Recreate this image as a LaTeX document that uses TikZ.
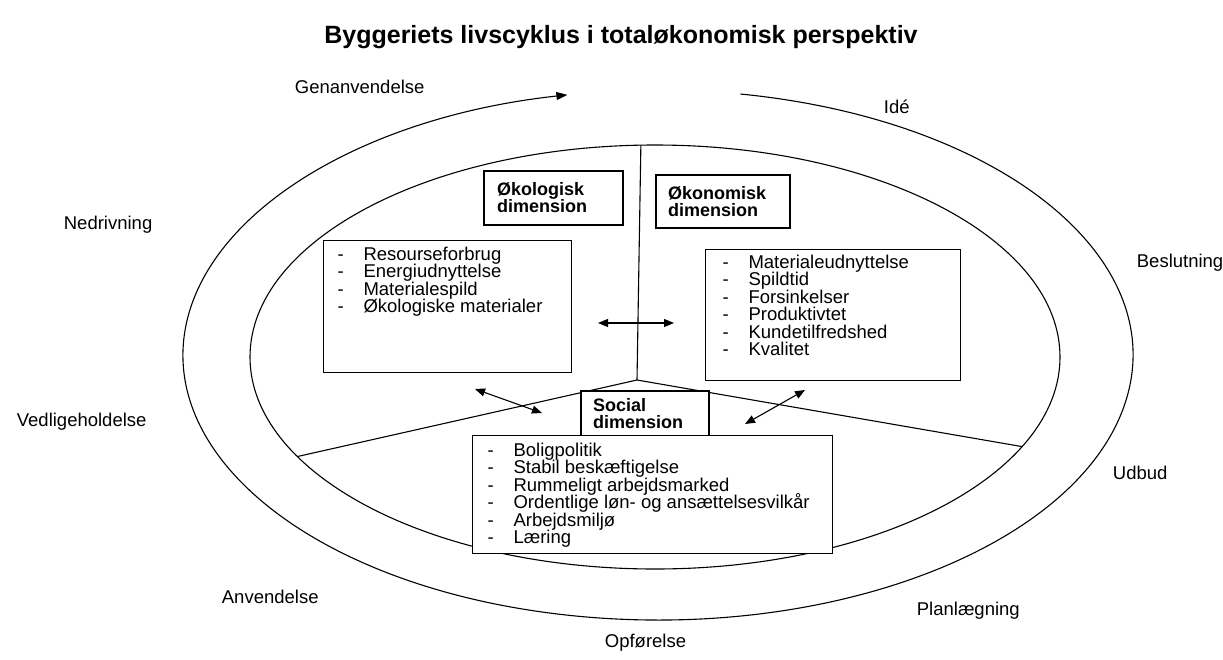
\documentclass[tikz,border=0pt]{standalone}
\usepackage{fontspec}
\setmainfont{Liberation Sans}
\usetikzlibrary{arrows.meta}

\newcommand{\punkt}{\makebox[26pt][l]{-}}
\newcommand{\listfont}{\fontsize{18.5}{17.5}\selectfont\lineskiplimit=-20pt}

\begin{document}
\begin{tikzpicture}[x=1pt,y=-1pt,line width=1.1pt,
  stage/.style={anchor=base west,font=\fontsize{18.5}{20}\selectfont},
  dimbox/.style={draw,fill=white,inner sep=0pt,align=left,font=\bfseries\fontsize{18}{17}\selectfont},
  listbox/.style={draw,fill=white,anchor=north west,inner ysep=0pt},
  link/.style={{Triangle[length=10pt,width=8pt]}-{Triangle[length=10pt,width=8pt]}}]
\useasboundingbox (0,0) rectangle (1223,659);

% Title
\node[anchor=base,font=\bfseries\fontsize{25}{30}\selectfont] (head) at (621,43)
  {Byggeriets livscyklus i totaløkonomisk perspektiv};

% Life cycle ring
\coordinate (ring) at (658,355);
\draw[-{Triangle[length=11pt,width=8pt]}] ([shift={(-80:475 and 265)}]ring)
  arc[start angle=-80,end angle=259,x radius=475,y radius=265];

% Stages
\node[stage] (genanv) at (291,93) {Genanvendelse};
\node[stage] (ide) at (880,113) {Idé};
\node[stage] (nedriv) at (60,229) {Nedrivning};
\node[stage] (beslut) at (1133,267) {Beslutning};
\node[stage] (vedlig) at (13,426) {Vedligeholdelse};
\node[stage] (udbud) at (1109,479) {Udbud};
\node[stage] (anvend) at (218,603) {Anvendelse};
\node[stage] (planl) at (913,615) {Planlægning};
\node[stage] (opfor) at (601,647) {Opførelse};

% Inner ellipse and the three sectors
\coordinate (core) at (655,357);
\draw (core) ellipse [x radius=405,y radius=212];
\coordinate (hub) at (637,380);
\draw (hub) -- ([shift={(-92:405 and 212)}]core);
\draw (hub) -- ([shift={(152:405 and 212)}]core);
\draw (hub) -- ([shift={(25:405 and 212)}]core);

% Dimensions
\node[dimbox,minimum width=139pt,minimum height=54pt,text width=113pt] (oekolog) at (553.5,198)
  {Økologisk\\dimension};
\node[dimbox,minimum width=134pt,minimum height=53pt,text width=110pt] (oekonom) at (723,201.5)
  {Økonomisk\\dimension};
\node[dimbox,minimum width=128pt,minimum height=45pt,text width=104pt] (social) at (645,413.5)
  {Social\\dimension};

% Lists
\node[listbox,inner xsep=14pt] (ekolist) at (323,240)
  {\parbox[c][132pt][t]{220pt}{\listfont\vspace*{6.5pt}%
   \punkt Resourseforbrug\\
   \punkt Energiudnyttelse\\
   \punkt Materialespild\\
   \punkt Økologiske materialer}};
\node[listbox,inner xsep=17pt] (okolist) at (705,249)
  {\parbox[c][131pt][t]{221pt}{\listfont\vspace*{5.5pt}%
   \punkt Materialeudnyttelse\\
   \punkt Spildtid\\
   \punkt Forsinkelser\\
   \punkt Produktivtet\\
   \punkt Kundetilfredshed\\
   \punkt Kvalitet}};
\node[listbox,inner xsep=15pt] (soclist) at (472,435)
  {\parbox[c][118pt][t]{330pt}{\listfont\vspace*{7.5pt}%
   \punkt Boligpolitik\\
   \punkt Stabil beskæftigelse\\
   \punkt Rummeligt arbejdsmarked\\
   \punkt Ordentlige løn- og ansættelsesvilkår\\
   \punkt Arbejdsmiljø\\
   \punkt Læring}};

% Interaction arrows
\coordinate (ekoR) at (598,323);
\coordinate (okoL) at (674,323);
\coordinate (ekoB) at (475,389);
\coordinate (socL) at (542,413);
\coordinate (okoB) at (805,390);
\coordinate (socR) at (745,424);
\draw[link] (ekoR) -- (okoL);
\draw[link] (ekoB) -- (socL);
\draw[link] (okoB) -- (socR);
\end{tikzpicture}
\end{document}
